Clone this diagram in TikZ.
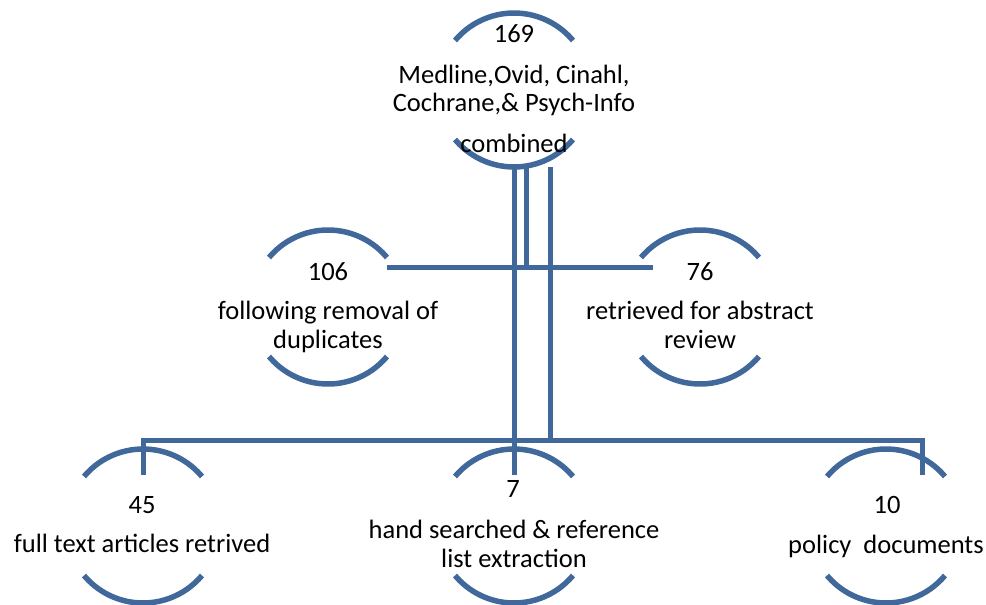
\documentclass[tikz,border=0pt]{standalone}
\usepackage{fontspec}
\setmainfont{Carlito}
\definecolor{flowblue}{RGB}{65,104,155}
\tikzset{
  ring/.style={circle, minimum size=154pt, inner sep=0pt},
  arcln/.style={draw=flowblue, line width=5.5pt},
  conn/.style={draw=flowblue, line width=5pt, line cap=butt, line join=miter},
  lbl/.style={anchor=base, inner sep=0pt, font=\fontsize{26.5}{28}\selectfont}
}
\newcommand{\ringarcs}[1]{%
  \draw[arcln] (#1.center) ++(-140:77) arc[start angle=-140, end angle=-40, radius=77];
  \draw[arcln] (#1.center) ++(40:77) arc[start angle=40, end angle=140, radius=77];
}
\begin{document}
\begin{tikzpicture}[x=1pt, y=-1pt]
\path[use as bounding box, fill=white] (0,0) rectangle (986,605);

% circles
\node[ring] (c1) at (514,90) {};
\node[ring] (c2) at (328,307) {};
\node[ring] (c3) at (700,307) {};
\node[ring] (c4) at (143,526) {};
\node[ring] (c5) at (514,526) {};
\node[ring] (c6) at (886,526) {};
\ringarcs{c1}
\ringarcs{c2}
\ringarcs{c3}
\ringarcs{c4}
\ringarcs{c5}
\ringarcs{c6}

% connector points
\coordinate (a1) at (526,167);
\coordinate (a2) at (526,267);
\coordinate (b1) at (514,167);
\coordinate (b2) at (514,475);
\coordinate (d1) at (550,167);
\coordinate (d2) at (550,440);
\coordinate (hL) at (387,267);
\coordinate (hR) at (653,267);
\coordinate (eL) at (143,475);
\coordinate (eR) at (922,475);
\coordinate (kR) at (922,440);

\draw[conn] (a1) -- (a2);
\draw[conn] (hL) -- (hR);
\draw[conn] (b1) -- (b2);
\draw[conn] (d1) -- (d2);
\draw[conn] (eL) |- (kR) -- (eR);

% texts
\node[lbl] (t1a) at (514,42) {169};
\node[lbl] (t1b) at (514,83) {Medline,Ovid, Cinahl,};
\node[lbl] (t1c) at (514,111) {Cochrane,\& Psych-Info};
\node[lbl] (t1d) at (514,152) {combined};

\node[lbl] (t2a) at (328,280) {106};
\node[lbl] (t2b) at (328,319) {following removal of};
\node[lbl] (t2c) at (328,348) {duplicates};

\node[lbl] (t3a) at (700,280) {76};
\node[lbl] (t3b) at (700,319) {retrieved for abstract};
\node[lbl] (t3c) at (700,348) {review};

\node[lbl] (t4a) at (142,513) {45};
\node[lbl] (t4b) at (142,552) {full text articles retrived};

\node[lbl] (t5a) at (513,497) {7};
\node[lbl] (t5b) at (514,538) {hand searched \& reference};
\node[lbl] (t5c) at (514,567) {list extraction};

\node[lbl] (t6a) at (887,513) {10};
\node[lbl] (t6b) at (886,553) {policy~~documents};
\end{tikzpicture}
\end{document}
